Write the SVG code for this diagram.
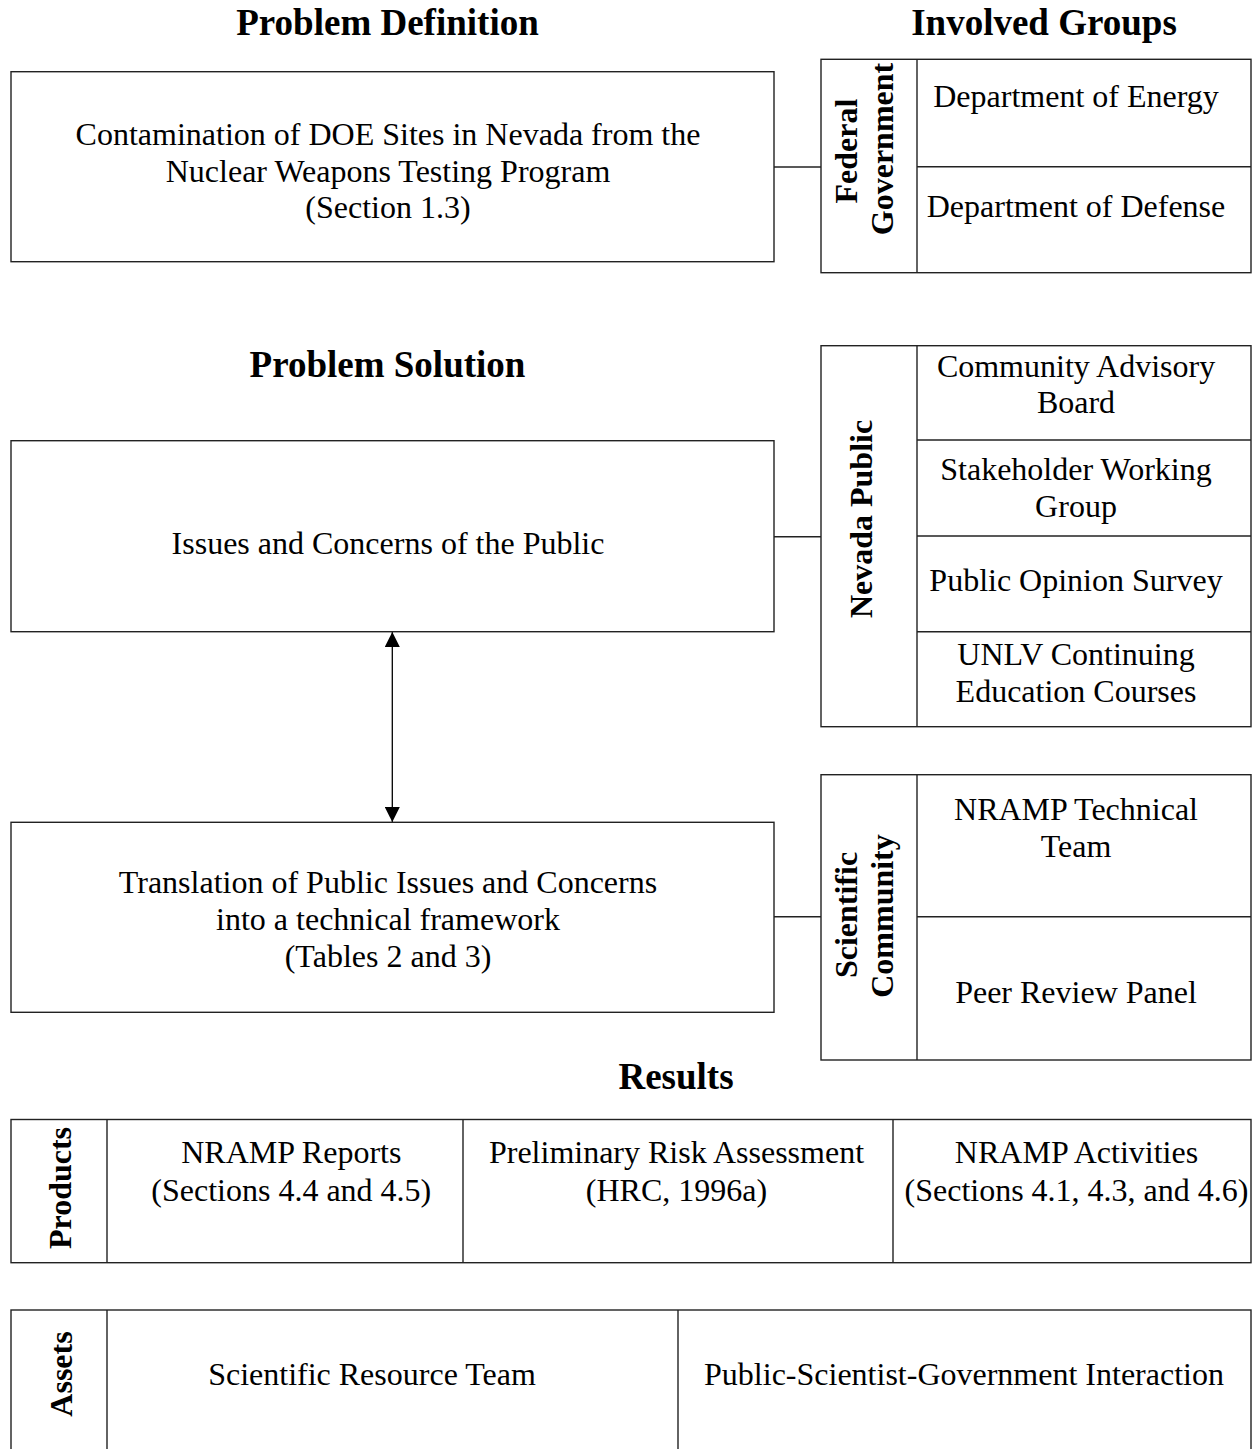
<svg xmlns="http://www.w3.org/2000/svg" width="1252" height="1449" viewBox="0 0 1252 1449">
<style>
text{font-family:"Liberation Serif","Times New Roman",serif;fill:#000;text-anchor:middle}
.t{font-size:32px}
.h{font-size:37px;font-weight:bold}
.v{font-size:32px;font-weight:bold}
.box{fill:#fff;stroke:#222;stroke-width:1.4}
.ln{fill:none;stroke:#222;stroke-width:1.4}
</style>
<defs>
<marker id="ah" viewBox="0 0 15 15" refX="15" refY="7.5" markerWidth="15" markerHeight="15" markerUnits="userSpaceOnUse" orient="auto-start-reverse">
<path d="M0,0 L15,7.5 L0,15 Z" fill="#000"/>
</marker>
</defs>
<rect width="1252" height="1449" fill="#fff"/>

<g id="titles">
<text class="h" x="387.5" y="34.5">Problem Definition</text>
<text class="h" x="1044" y="34.5">Involved Groups</text>
<text class="h" x="387.5" y="376.7">Problem Solution</text>
<text class="h" x="676" y="1089.3">Results</text>
</g>

<g id="connectors">
<line class="ln" x1="774" y1="167" x2="821" y2="167"/>
<line class="ln" x1="774" y1="536.7" x2="821" y2="536.7"/>
<line class="ln" x1="774" y1="916.7" x2="821" y2="916.7"/>
<line x1="392.3" y1="632" x2="392.3" y2="822" stroke="#000" stroke-width="1.3" marker-start="url(#ah)" marker-end="url(#ah)"/>
</g>

<g id="problem-definition">
<rect class="box" x="11" y="71.7" width="763" height="190"/>
<text class="t" x="388" y="145">Contamination of DOE Sites in Nevada from the</text>
<text class="t" x="388" y="181.7">Nuclear Weapons Testing Program</text>
<text class="t" x="388" y="218.3">(Section 1.3)</text>
</g>

<g id="issues">
<rect class="box" x="11" y="440.7" width="763" height="191"/>
<text class="t" x="388" y="554">Issues and Concerns of the Public</text>
</g>

<g id="translation">
<rect class="box" x="11" y="822.3" width="763" height="190"/>
<text class="t" x="388" y="892.7">Translation of Public Issues and Concerns</text>
<text class="t" x="388" y="930">into a technical framework</text>
<text class="t" x="388" y="967.3">(Tables 2 and 3)</text>
</g>

<g id="federal-government">
<rect class="box" x="821" y="59.3" width="430" height="213.4"/>
<line class="ln" x1="917" y1="59.3" x2="917" y2="272.7"/>
<line class="ln" x1="917" y1="166.7" x2="1251" y2="166.7"/>
<text class="v" transform="translate(856.7,151) rotate(-90)">Federal</text>
<text class="v" transform="translate(893,149) rotate(-90)">Government</text>
<text class="t" x="1076" y="106.7">Department of Energy</text>
<text class="t" x="1076" y="216.7">Department of Defense</text>
</g>

<g id="nevada-public">
<rect class="box" x="821" y="345.7" width="430" height="381"/>
<line class="ln" x1="917" y1="345.7" x2="917" y2="726.7"/>
<line class="ln" x1="917" y1="440" x2="1251" y2="440"/>
<line class="ln" x1="917" y1="536" x2="1251" y2="536"/>
<line class="ln" x1="917" y1="631.7" x2="1251" y2="631.7"/>
<text class="v" transform="translate(872,519) rotate(-90)">Nevada Public</text>
<text class="t" x="1076" y="376.7">Community Advisory</text>
<text class="t" x="1076" y="413.3">Board</text>
<text class="t" x="1076" y="480">Stakeholder Working</text>
<text class="t" x="1076" y="516.7">Group</text>
<text class="t" x="1076" y="590.7">Public Opinion Survey</text>
<text class="t" x="1076" y="665">UNLV Continuing</text>
<text class="t" x="1076" y="701.7">Education Courses</text>
</g>

<g id="scientific-community">
<rect class="box" x="821" y="774.7" width="430" height="285.3"/>
<line class="ln" x1="917" y1="774.7" x2="917" y2="1060"/>
<line class="ln" x1="917" y1="916.7" x2="1251" y2="916.7"/>
<text class="v" transform="translate(856.7,915) rotate(-90)">Scientific</text>
<text class="v" transform="translate(893,916) rotate(-90)">Community</text>
<text class="t" x="1076" y="820">NRAMP Technical</text>
<text class="t" x="1076" y="856.7">Team</text>
<text class="t" x="1076" y="1003.3">Peer Review Panel</text>
</g>

<g id="products">
<rect class="box" x="11" y="1119.5" width="1240" height="143.2"/>
<line class="ln" x1="107" y1="1119.5" x2="107" y2="1262.7"/>
<line class="ln" x1="463" y1="1119.5" x2="463" y2="1262.7"/>
<line class="ln" x1="893" y1="1119.5" x2="893" y2="1262.7"/>
<text class="v" transform="translate(71,1188) rotate(-90)">Products</text>
<text class="t" x="291.3" y="1163.3">NRAMP Reports</text>
<text class="t" x="291.3" y="1200.7">(Sections 4.4 and 4.5)</text>
<text class="t" x="676.5" y="1163.3">Preliminary Risk Assessment</text>
<text class="t" x="676.5" y="1200.7">(HRC, 1996a)</text>
<text class="t" x="1076.5" y="1163.3">NRAMP Activities</text>
<text class="t" x="1076.5" y="1200.7">(Sections 4.1, 4.3, and 4.6)</text>
</g>

<g id="assets">
<rect class="box" x="11" y="1310" width="1240" height="160"/>
<line class="ln" x1="107" y1="1310" x2="107" y2="1470"/>
<line class="ln" x1="678" y1="1310" x2="678" y2="1470"/>
<text class="v" transform="translate(71.5,1374) rotate(-90)">Assets</text>
<text class="t" x="372" y="1385">Scientific Resource Team</text>
<text class="t" x="964" y="1385">Public-Scientist-Government Interaction</text>
</g>
</svg>
